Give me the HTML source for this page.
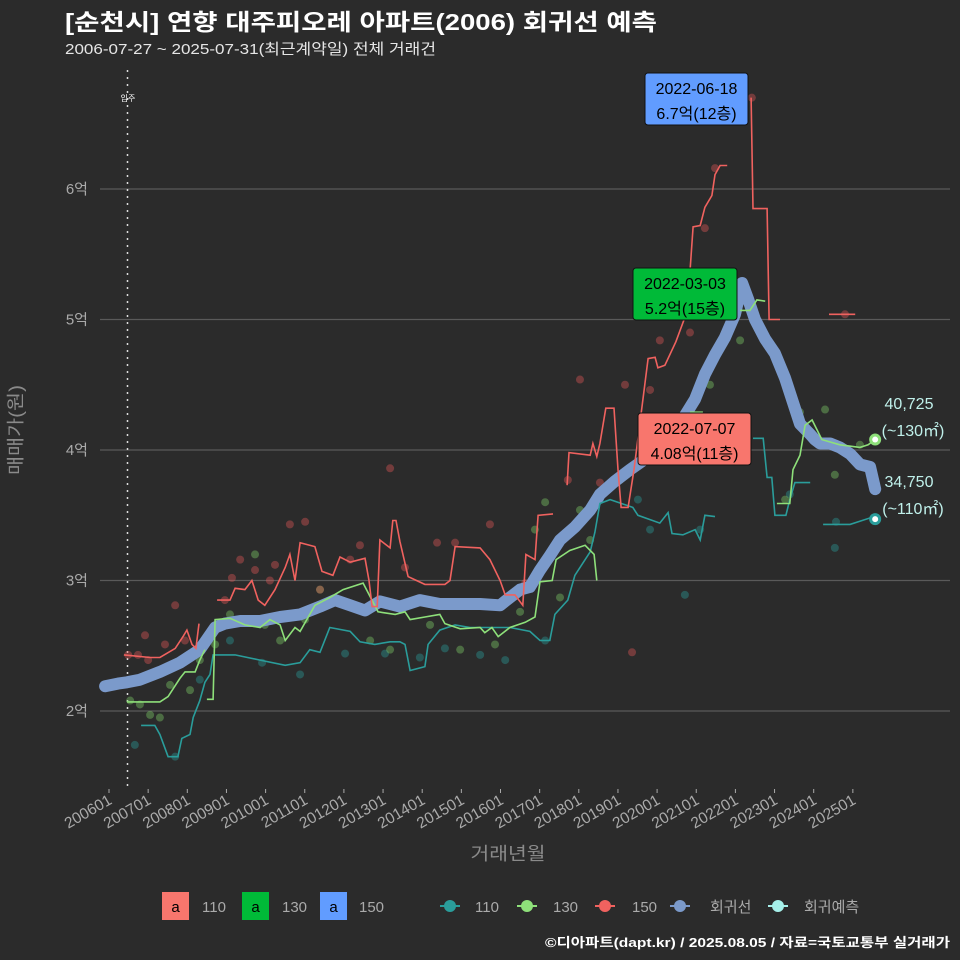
<!DOCTYPE html>
<html><head><meta charset="utf-8"><style>
html,body{margin:0;padding:0;background:#2b2b2b;}
svg{display:block;font-family:"Liberation Sans","Noto Sans CJK KR",sans-serif;}
</style></head><body>
<svg id="chart" width="960" height="960" viewBox="0 0 960 960">
<rect width="960" height="960" fill="#2b2b2b"/>
<text x="65" y="30" fill="#ffffff" font-size="23" font-weight="bold" textLength="592" lengthAdjust="spacingAndGlyphs">[순천시] 연향 대주피오레 아파트(2006) 회귀선 예측</text>
<text x="65" y="54" fill="#e6e6e6" font-size="15" textLength="371" lengthAdjust="spacingAndGlyphs">2006-07-27 ~ 2025-07-31(최근계약일) 전체 거래건</text>
<g id="grid"></g>
<g id="yticks"></g>
<g id="xticks"></g>
<line x1="127.5" y1="70" x2="127.5" y2="790" stroke="#dddddd" stroke-width="1.5" stroke-dasharray="2,5"/>
<text x="128" y="101" fill="#ffffff" font-size="8" text-anchor="middle">입주</text>
<g id="dots"></g>
<g id="lines"></g>
<g id="annot"></g>
<text transform="translate(22,430) rotate(-90)" fill="#8a8a8a" font-size="18" text-anchor="middle" textLength="90" lengthAdjust="spacingAndGlyphs">매매가(원)</text>
<text x="508" y="860" fill="#8a8a8a" font-size="18" text-anchor="middle" textLength="75" lengthAdjust="spacingAndGlyphs">거래년월</text>
<g font-size="15" fill="#aaaaaa">
  <rect x="162" y="892" width="27" height="28" fill="#f8766d"/>
  <text x="175.5" y="912" fill="#000" text-anchor="middle">a</text>
  <text x="202" y="912">110</text>
  <rect x="242" y="892" width="27" height="28" fill="#00ba38"/>
  <text x="255.5" y="912" fill="#000" text-anchor="middle">a</text>
  <text x="282" y="912">130</text>
  <rect x="320" y="892" width="27" height="28" fill="#619cff"/>
  <text x="333.5" y="912" fill="#000" text-anchor="middle">a</text>
  <text x="359" y="912">150</text>
  <g><line x1="440" y1="906" x2="460" y2="906" stroke="#2a9d9b" stroke-width="2"/><circle cx="450" cy="906" r="6" fill="#2a9d9b"/><text x="475" y="912">110</text></g>
  <g><line x1="517" y1="906" x2="537" y2="906" stroke="#8ee07a" stroke-width="2"/><circle cx="527" cy="906" r="6" fill="#8ee07a"/><text x="553" y="912">130</text></g>
  <g><line x1="595" y1="906" x2="615" y2="906" stroke="#f0625f" stroke-width="2"/><circle cx="605" cy="906" r="6" fill="#f0625f"/><text x="632" y="912">150</text></g>
  <g><line x1="670" y1="906" x2="690" y2="906" stroke="#7b9acb" stroke-width="2"/><circle cx="680" cy="906" r="6" fill="#7b9acb"/><text x="710" y="912">회귀선</text></g>
  <g><line x1="768" y1="906" x2="788" y2="906" stroke="#a6f0ea" stroke-width="2"/><circle cx="778" cy="906" r="6" fill="#a6f0ea"/><text x="804" y="912">회귀예측</text></g>
</g>
<text x="950" y="947" fill="#ffffff" font-size="13" font-weight="bold" text-anchor="end" textLength="405" lengthAdjust="spacingAndGlyphs">©디아파트(dapt.kr) / 2025.08.05 / 자료=국토교통부 실거래가</text>
</svg>
<script>
const yTicks = [2, 3, 4, 5, 6];
const yTickLabels = ["2억", "3억", "4억", "5억", "6억"];
const xTickYears = [2006,2007,2008,2009,2010,2011,2012,2013,2014,2015,2016,2017,2018,2019,2020,2021,2022,2023,2024,2025];
const xTickLabels = ["200601","200701","200801","200901","201001","201101","201201","201301","201401","201501","201601","201701","201801","201901","202001","202101","202201","202301","202401","202501"];

const regression = [[2005.90,2.19],[2006.23,2.21],[2006.46,2.22],[2006.79,2.24],[2007.30,2.30],[2007.81,2.37],[2008.32,2.47],[2008.71,2.64],[2008.96,2.67],[2009.35,2.69],[2009.86,2.69],[2010.37,2.72],[2010.88,2.74],[2011.39,2.80],[2011.77,2.85],[2012.16,2.81],[2012.54,2.77],[2012.92,2.84],[2013.43,2.80],[2013.94,2.85],[2014.45,2.82],[2014.97,2.82],[2015.48,2.82],[2015.99,2.81],[2016.24,2.87],[2016.50,2.93],[2016.75,2.95],[2017.01,3.08],[2017.26,3.19],[2017.52,3.31],[2017.90,3.41],[2018.29,3.54],[2018.54,3.66],[2018.92,3.76],[2019.31,3.85],[2019.69,3.93],[2020.07,4.05],[2020.58,4.20],[2020.97,4.39],[2021.22,4.58],[2021.48,4.73],[2021.73,4.86],[2021.99,5.04],[2022.17,5.28],[2022.32,5.16],[2022.50,5.00],[2022.76,4.85],[2023.01,4.74],[2023.27,4.55],[2023.52,4.32],[2023.65,4.20],[2023.91,4.12],[2024.03,4.08],[2024.16,4.05],[2024.42,4.05],[2024.67,4.02],[2024.93,3.97],[2025.18,3.89],[2025.44,3.87],[2025.57,3.70]];

const line150 = [
 [[2006.38,2.43],[2007.05,2.41],[2007.30,2.41],[2007.69,2.48],[2007.89,2.57],[2007.99,2.62],[2008.12,2.51],[2008.22,2.48],[2008.30,2.67]],
 [[2008.76,2.85],[2009.09,2.85],[2009.22,2.94],[2009.47,2.93],[2009.65,3.00],[2009.81,2.85],[2009.98,2.81],[2010.24,2.93],[2010.50,3.10],[2010.62,3.20],[2010.75,3.00],[2010.88,3.29],[2011.26,3.26],[2011.44,3.07],[2011.72,3.04],[2011.90,3.18],[2012.16,3.14],[2012.54,3.17],[2012.64,3.00],[2012.72,2.80],[2012.85,2.80],[2012.92,3.31],[2013.18,3.25],[2013.25,3.46],[2013.33,3.46],[2013.43,3.30],[2013.64,3.03],[2014.07,2.97],[2014.58,2.97],[2014.71,3.00],[2014.84,3.26],[2015.48,3.25],[2015.73,3.16],[2015.99,3.00],[2016.12,2.89],[2016.37,2.89],[2016.57,2.81],[2016.65,3.20],[2016.88,3.16],[2016.96,3.50],[2017.34,3.51]],
 [[2017.70,3.73],[2017.75,3.98],[2018.29,3.96],[2018.36,4.05],[2018.46,3.95],[2018.54,4.05],[2018.69,4.32],[2018.90,4.32],[2019.00,3.85],[2019.08,3.56],[2019.26,3.56],[2019.41,3.85],[2019.77,4.70],[2019.95,4.71],[2020.02,4.63],[2020.20,4.65],[2020.48,4.83],[2020.69,5.00],[2020.79,5.15],[2020.92,5.71],[2021.10,5.72],[2021.22,5.86],[2021.40,5.95],[2021.48,6.11],[2021.61,6.18],[2021.79,6.18]],
 [[2022.40,6.70],[2022.45,5.85],[2022.81,5.85],[2022.86,5.00],[2023.14,5.00]],
 [[2024.39,5.04],[2025.06,5.04]]
];
const line130 = [
 [[2006.46,2.07],[2007.30,2.07],[2007.51,2.11],[2007.81,2.25],[2007.94,2.30],[2008.20,2.30],[2008.32,2.39],[2008.45,2.47]],
 [[2008.50,2.09],[2008.66,2.09],[2008.71,2.70],[2009.09,2.71],[2009.47,2.66],[2009.86,2.64],[2010.11,2.70],[2010.37,2.66],[2010.50,2.54],[2010.75,2.64],[2010.88,2.61],[2011.26,2.81],[2011.64,2.87],[2011.98,2.93],[2012.49,2.98],[2012.87,2.76],[2013.31,2.74],[2013.56,2.76],[2013.69,2.70],[2014.07,2.72],[2014.45,2.74],[2014.58,2.67],[2014.97,2.63],[2015.48,2.64],[2015.60,2.60],[2015.78,2.64],[2015.94,2.57],[2016.24,2.64],[2016.63,2.68],[2016.88,2.72],[2017.01,2.99],[2017.32,3.00],[2017.42,3.16],[2017.77,3.23],[2018.16,3.27],[2018.39,3.20],[2018.46,3.00]],
 [[2020.84,4.29],[2021.17,4.29]],
 [[2022.12,5.07],[2022.37,5.07],[2022.55,5.15],[2022.76,5.14]],
 [[2023.06,3.59],[2023.39,3.59],[2023.47,3.85],[2023.65,3.96],[2023.78,4.19],[2023.96,4.23],[2024.21,4.08],[2024.67,4.04],[2025.18,4.02],[2025.39,4.04],[2025.57,4.08]]
];
const line110 = [
 [[2006.82,1.89],[2007.17,1.89],[2007.30,1.82],[2007.51,1.65],[2007.76,1.65],[2007.86,1.79],[2008.07,1.82],[2008.15,1.95],[2008.32,2.08],[2008.45,2.22],[2008.58,2.28],[2008.66,2.43],[2009.22,2.43],[2009.86,2.39],[2010.50,2.35],[2010.88,2.37],[2011.13,2.47],[2011.39,2.45],[2011.64,2.64],[2012.16,2.61],[2012.41,2.53],[2012.79,2.51],[2013.18,2.53],[2013.43,2.53],[2013.56,2.51],[2013.69,2.31],[2014.07,2.34],[2014.15,2.51],[2014.45,2.62],[2014.84,2.66],[2015.22,2.64],[2015.86,2.64],[2016.24,2.64],[2016.75,2.61],[2017.01,2.54],[2017.26,2.54],[2017.39,2.74],[2017.72,2.85],[2017.90,3.04],[2018.29,3.22],[2018.41,3.37],[2018.54,3.59],[2018.80,3.62],[2019.38,3.56],[2019.51,3.50],[2020.07,3.44],[2020.28,3.52],[2020.38,3.36],[2020.66,3.35],[2020.97,3.39],[2021.10,3.31],[2021.22,3.50],[2021.48,3.49]],
 [[2022.45,4.09],[2022.71,4.09],[2022.81,3.79],[2022.93,3.79],[2023.01,3.50],[2023.29,3.50],[2023.39,3.62],[2023.52,3.75],[2023.91,3.75]],
 [[2024.24,3.43],[2024.93,3.43],[2025.44,3.48],[2025.57,3.47]]
];

const dots150 = [[2006.49,2.43],[2006.74,2.43],[2007.00,2.39],[2006.92,2.58],[2007.43,2.51],[2007.69,2.81],[2007.94,2.54],[2008.96,2.85],[2009.14,3.02],[2009.35,3.16],[2009.73,3.08],[2010.11,3.00],[2010.24,3.12],[2010.62,3.43],[2011.01,3.45],[2011.39,2.93],[2012.16,3.16],[2012.41,3.27],[2013.18,3.86],[2013.56,3.10],[2014.38,3.29],[2014.84,3.29],[2015.73,3.43],[2016.63,2.98],[2017.72,3.77],[2018.03,4.54],[2018.54,3.75],[2019.36,2.45],[2019.18,4.50],[2019.82,4.46],[2020.07,4.84],[2020.84,4.90],[2021.22,5.70],[2021.48,6.16],[2022.42,6.70],[2024.80,5.04]];
const dots130 = [[2006.54,2.08],[2006.79,2.05],[2007.05,1.97],[2007.30,1.95],[2007.56,2.20],[2008.07,2.16],[2008.32,2.39],[2008.71,2.51],[2009.09,2.74],[2009.73,3.20],[2009.98,2.66],[2010.37,2.54],[2011.01,2.70],[2011.39,2.93],[2011.90,2.85],[2012.67,2.54],[2013.18,2.47],[2014.20,2.66],[2014.97,2.47],[2015.86,2.51],[2016.50,2.76],[2016.88,3.39],[2017.14,3.60],[2017.52,2.87],[2018.03,3.54],[2018.29,3.31],[2019.05,3.77],[2020.15,4.00],[2021.35,4.50],[2022.12,4.84],[2023.27,3.62],[2023.65,4.29],[2024.29,4.31],[2024.54,3.81],[2025.18,4.04]];
const dots110 = [[2006.66,1.74],[2007.69,1.65],[2008.32,2.24],[2009.09,2.54],[2009.91,2.37],[2010.88,2.28],[2012.03,2.44],[2013.05,2.44],[2013.94,2.41],[2014.58,2.48],[2015.48,2.43],[2016.12,2.39],[2017.14,2.54],[2018.54,3.62],[2019.51,3.62],[2019.82,3.39],[2020.71,2.89],[2021.10,3.39],[2023.39,3.66],[2024.54,3.25],[2024.57,3.45]];

const endPoints = [[2025.57,4.08],[2025.57,3.47]];
const endValues = ["40,725","34,750"];

const NS = "http://www.w3.org/2000/svg";
function xs(t){ return 109 + (t - 2006) * 39.15; }
function ys(v){ return 711 - (v - 2) * 130.5; }
function mk(tag, attrs, parent){ const e = document.createElementNS(NS, tag); for (const k in attrs) e.setAttribute(k, attrs[k]); parent.appendChild(e); return e; }
function pathD(pts){ return pts.map((p,i)=>(i?"L":"M")+xs(p[0]).toFixed(1)+","+ys(p[1]).toFixed(1)).join(""); }

const grid = document.getElementById("grid");
const yg = document.getElementById("yticks");
yTicks.forEach((v,i)=>{
  const l = mk("line",{x1:100,x2:950,y1:ys(v),y2:ys(v),stroke:"#5a5a5a","stroke-width":1.2},grid);
  
  
  const t = mk("text",{x:88,y:ys(v)+5,fill:"#aaaaaa","font-size":15,"text-anchor":"end"},yg);
  t.textContent = yTickLabels[i];
  
  
});
const xg = document.getElementById("xticks");
xTickYears.forEach((yr,i)=>{
  const x = xs(yr);
  const tk = mk("line",{x1:x,x2:x,y1:789,y2:793,stroke:"#aaaaaa","stroke-width":1},xg);
  
  
  const t = mk("text",{x:x+4,y:803,fill:"#aaaaaa","font-size":15.5,"text-anchor":"end",transform:"rotate(-30 "+(x+4)+" 803)"},xg);
  t.textContent = xTickLabels[i];
  
  
});

const dg = document.getElementById("dots");
[[dots110,"#2a9d9b"],[dots130,"#7fd06a"],[dots150,"#e05858"]].forEach(([arr,c])=>{
  arr.forEach(p=>{
    const d = mk("circle",{cx:xs(p[0]),cy:ys(p[1]),r:4,fill:c,"fill-opacity":0.4},dg);
    
    
  });
});

const lg = document.getElementById("lines");
const reg = mk("path",{d:pathD(regression),fill:"none",stroke:"#7b9acb","stroke-width":12,"stroke-linejoin":"round","stroke-linecap":"round"},lg);


[[line110,"#2a9d9b","line-110"],[line130,"#8ee07a","line-130"],[line150,"#f0625f","line-150"]].forEach(([segs,c,n])=>{
  segs.forEach(s=>{
    const p = mk("path",{d:pathD(s),fill:"none",stroke:c,"stroke-width":1.6},lg);
    
    
  });
});

const ag = document.getElementById("annot");
[[endPoints[0],"#8ee07a"],[endPoints[1],"#2a9d9b"]].forEach(([p,c])=>{
  const o = mk("circle",{cx:xs(p[0]),cy:ys(p[1]),r:6,fill:c},ag);
  
  
  const inner = mk("circle",{cx:xs(p[0]),cy:ys(p[1]),r:3,fill:"#ffffff"},ag);
  
  
});
function label(x,y,txt,name){
  const t = mk("text",{x:x,y:y,fill:"#bff0ea","font-size":16,"text-anchor":"middle"},ag);
  t.textContent = txt;
  
  
}
label(909,409,endValues[0],"end-value-130");
label(913,436,"(~130㎡)","end-area-130");
label(909,487,endValues[1],"end-value-110");
label(913,514,"(~110㎡)","end-area-110");

function box(x,y,w,h,fill,l1,l2,name){
  const g = mk("g",{},ag);
  
  
  mk("rect",{x:x,y:y,width:w,height:h,rx:3,fill:fill,stroke:"#111","stroke-width":1},g);
  const a = mk("text",{x:x+w/2,y:y+21,fill:"#000","font-size":16,"text-anchor":"middle"},g); a.textContent = l1;
  const b = mk("text",{x:x+w/2,y:y+46,fill:"#000","font-size":16,"text-anchor":"middle"},g); b.textContent = l2;
}
box(645,73,103,52,"#619cff","2022-06-18","6.7억(12층)","max-label-150");
box(633,268,104,52,"#00ba38","2022-03-03","5.2억(15층)","max-label-130");
box(638,413,113,52,"#f8766d","2022-07-07","4.08억(11층)","max-label-110");
</script>
</body></html>
